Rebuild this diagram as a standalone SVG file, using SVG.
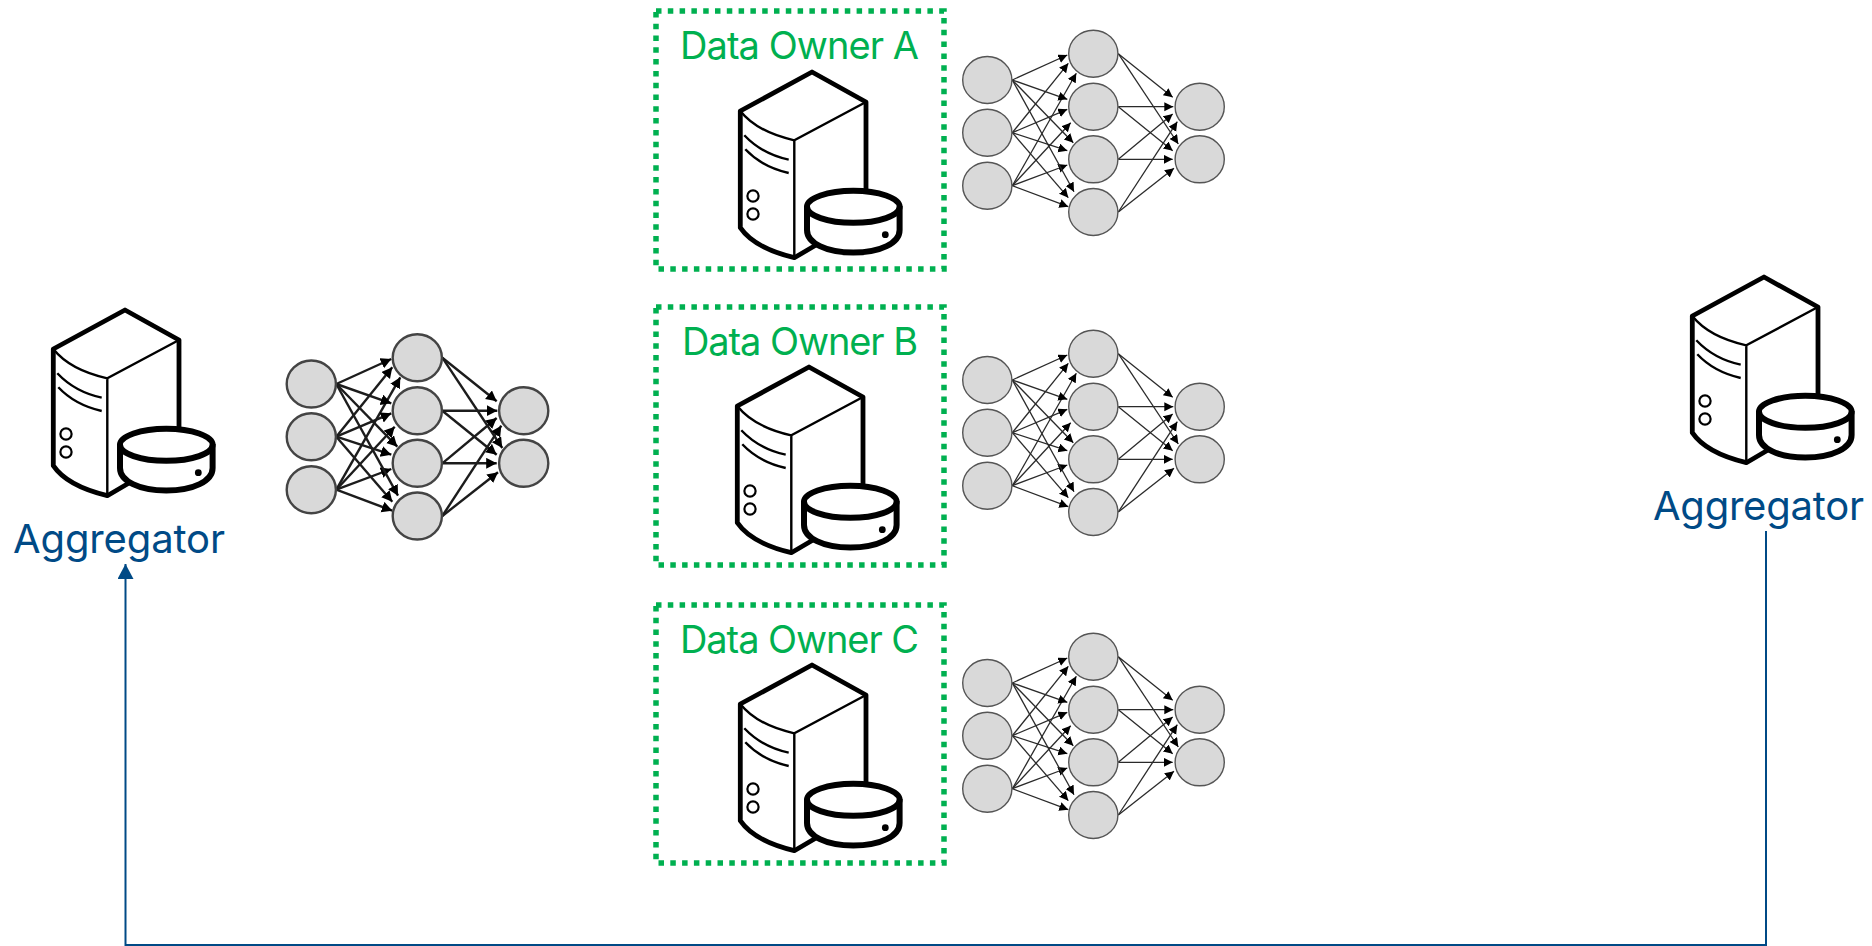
<svg xmlns="http://www.w3.org/2000/svg" width="1872" height="946" viewBox="0 0 1872 946">
<style>
text{font-family:"Inter","Lato","Liberation Sans",sans-serif;font-weight:400}
.owner{fill:#00b050;font-size:38px}
.agg{fill:#004a86;font-size:40px}
.box{fill:none;stroke:#00b050;stroke-width:5.5;stroke-dasharray:5.5 6.3}
.flow{fill:none;stroke:#004a86;stroke-width:2}
.n{fill:#d9d9d9;stroke:var(--ns,#555);stroke-width:var(--nw,1.4)}
.e line{stroke:var(--es,#2a2a2a);stroke-width:var(--ew,1.3);marker-end:var(--em,url(#ah))}
.thick{--ns:#444;--nw:2.4;--es:#1c1c1c;--ew:2.4;--em:url(#ahb)}
</style>
<defs>
<marker id="ah" markerUnits="userSpaceOnUse" markerWidth="11" markerHeight="11" refX="9" refY="4.5" orient="auto"><path d="M0,0L9,4.5L0,9Z" fill="#000"/></marker>
<marker id="ahb" markerUnits="userSpaceOnUse" markerWidth="13" markerHeight="13" refX="10.5" refY="5.5" orient="auto"><path d="M0,0L10.5,5.5L0,11Z" fill="#000"/></marker>
<marker id="fh" markerUnits="userSpaceOnUse" markerWidth="18" markerHeight="18" refX="15" refY="8" orient="auto"><path d="M0,0L15,8L0,16Z" fill="#004a86"/></marker>
<g id="server">
<path d="M54,120V30L0,0L-71.7,39V155.7Q-58,176 -17.7,185.7L4,173" fill="#fff" stroke="#000" stroke-width="4.8" stroke-linejoin="round"/>
<path d="M-71.7,39Q-55,60 -17.7,68.3L54,30M-17.7,68.3V185.7" fill="none" stroke="#000" stroke-width="2.4"/>
<path d="M-67.7,63.3Q-50,82 -23.3,87.7M-66.7,77.3Q-50,95 -23.3,101" fill="none" stroke="#000" stroke-width="2.4"/>
<circle cx="-59" cy="124" r="5.6" fill="#fff" stroke="#000" stroke-width="2.2"/>
<circle cx="-59" cy="142" r="5.6" fill="#fff" stroke="#000" stroke-width="2.2"/>
<path d="M-5,134V158C-5,171 14,180.5 41.3,180.5C68.6,180.5 87.6,171 87.6,158V134" fill="#fff" stroke="#000" stroke-width="6"/>
<ellipse cx="41.3" cy="134.8" rx="46.3" ry="16" fill="#fff" stroke="#000" stroke-width="6"/>
<circle cx="73.3" cy="162.7" r="3.4" fill="#000"/>
</g>
<g id="net">
<g class="e">
<line x1="62.3" y1="60" x2="117.3" y2="35"/>
<line x1="62.3" y1="112.7" x2="118.3" y2="43.3"/>
<line x1="62.3" y1="165.7" x2="126.3" y2="53.3"/>
<line x1="62.3" y1="60" x2="117.3" y2="79.3"/>
<line x1="62.3" y1="112.7" x2="117.3" y2="89.3"/>
<line x1="62.3" y1="165.7" x2="120.7" y2="102.7"/>
<line x1="62.3" y1="60" x2="123.3" y2="122.7"/>
<line x1="62.3" y1="112.7" x2="117.3" y2="130.7"/>
<line x1="62.3" y1="165.7" x2="117.3" y2="145"/>
<line x1="62.3" y1="60" x2="124" y2="171.7"/>
<line x1="62.3" y1="112.7" x2="118.3" y2="177.7"/>
<line x1="62.3" y1="165.7" x2="118.3" y2="186.7"/>
<line x1="168.3" y1="33.7" x2="222.7" y2="77.3"/>
<line x1="168.3" y1="33.7" x2="228.3" y2="124"/>
<line x1="168.3" y1="86.7" x2="223.3" y2="86.7"/>
<line x1="168.3" y1="86.7" x2="222.7" y2="130.7"/>
<line x1="168.3" y1="139.3" x2="222.7" y2="94"/>
<line x1="168.3" y1="139.3" x2="222.7" y2="139.3"/>
<line x1="168.3" y1="192" x2="227.3" y2="101.7"/>
<line x1="168.3" y1="192" x2="224" y2="148.3"/>
</g>
<ellipse class="n" cx="37.3" cy="60" rx="24.6" ry="23.5"/>
<ellipse class="n" cx="37.3" cy="112.7" rx="24.6" ry="23.5"/>
<ellipse class="n" cx="37.3" cy="165.7" rx="24.6" ry="23.5"/>
<ellipse class="n" cx="143.3" cy="33.7" rx="24.6" ry="23.5"/>
<ellipse class="n" cx="143.3" cy="86.7" rx="24.6" ry="23.5"/>
<ellipse class="n" cx="143.3" cy="139.3" rx="24.6" ry="23.5"/>
<ellipse class="n" cx="143.3" cy="192" rx="24.6" ry="23.5"/>
<ellipse class="n" cx="249.7" cy="86.7" rx="24.6" ry="23.5"/>
<ellipse class="n" cx="249.7" cy="139.3" rx="24.6" ry="23.5"/>
</g>
</defs>
<g id="connectors">
<path class="flow" marker-end="url(#fh)" d="M1766,531V945H125.5V564"/>
</g>
<g id="aggregator-left">
<use href="#server" transform="translate(125,310)"/>
<text class="agg" x="13" y="553" textLength="212">Aggregator</text>
</g>
<g id="model-left" class="thick"><use href="#net" transform="translate(274,324)"/></g>
<g id="aggregator-right">
<use href="#server" transform="translate(1764,277)"/>
<text class="agg" x="1653" y="520" textLength="211">Aggregator</text>
</g>
<g id="owner-a">
<rect class="box" x="656" y="11" width="288" height="258"/>
<text class="owner" x="680" y="59" textLength="239">Data Owner A</text>
<use href="#server" transform="translate(812,72)"/>
</g>
<g id="model-a"><use href="#net" transform="translate(950,20)"/></g>
<g id="owner-b">
<rect class="box" x="656" y="307" width="288" height="258"/>
<text class="owner" x="682" y="355" textLength="236">Data Owner B</text>
<use href="#server" transform="translate(809,367)"/>
</g>
<g id="model-b"><use href="#net" transform="translate(950,320)"/></g>
<g id="owner-c">
<rect class="box" x="656" y="605" width="288" height="258"/>
<text class="owner" x="680" y="653" textLength="239">Data Owner C</text>
<use href="#server" transform="translate(812,665)"/>
</g>
<g id="model-c"><use href="#net" transform="translate(950,623)"/></g>
</svg>
